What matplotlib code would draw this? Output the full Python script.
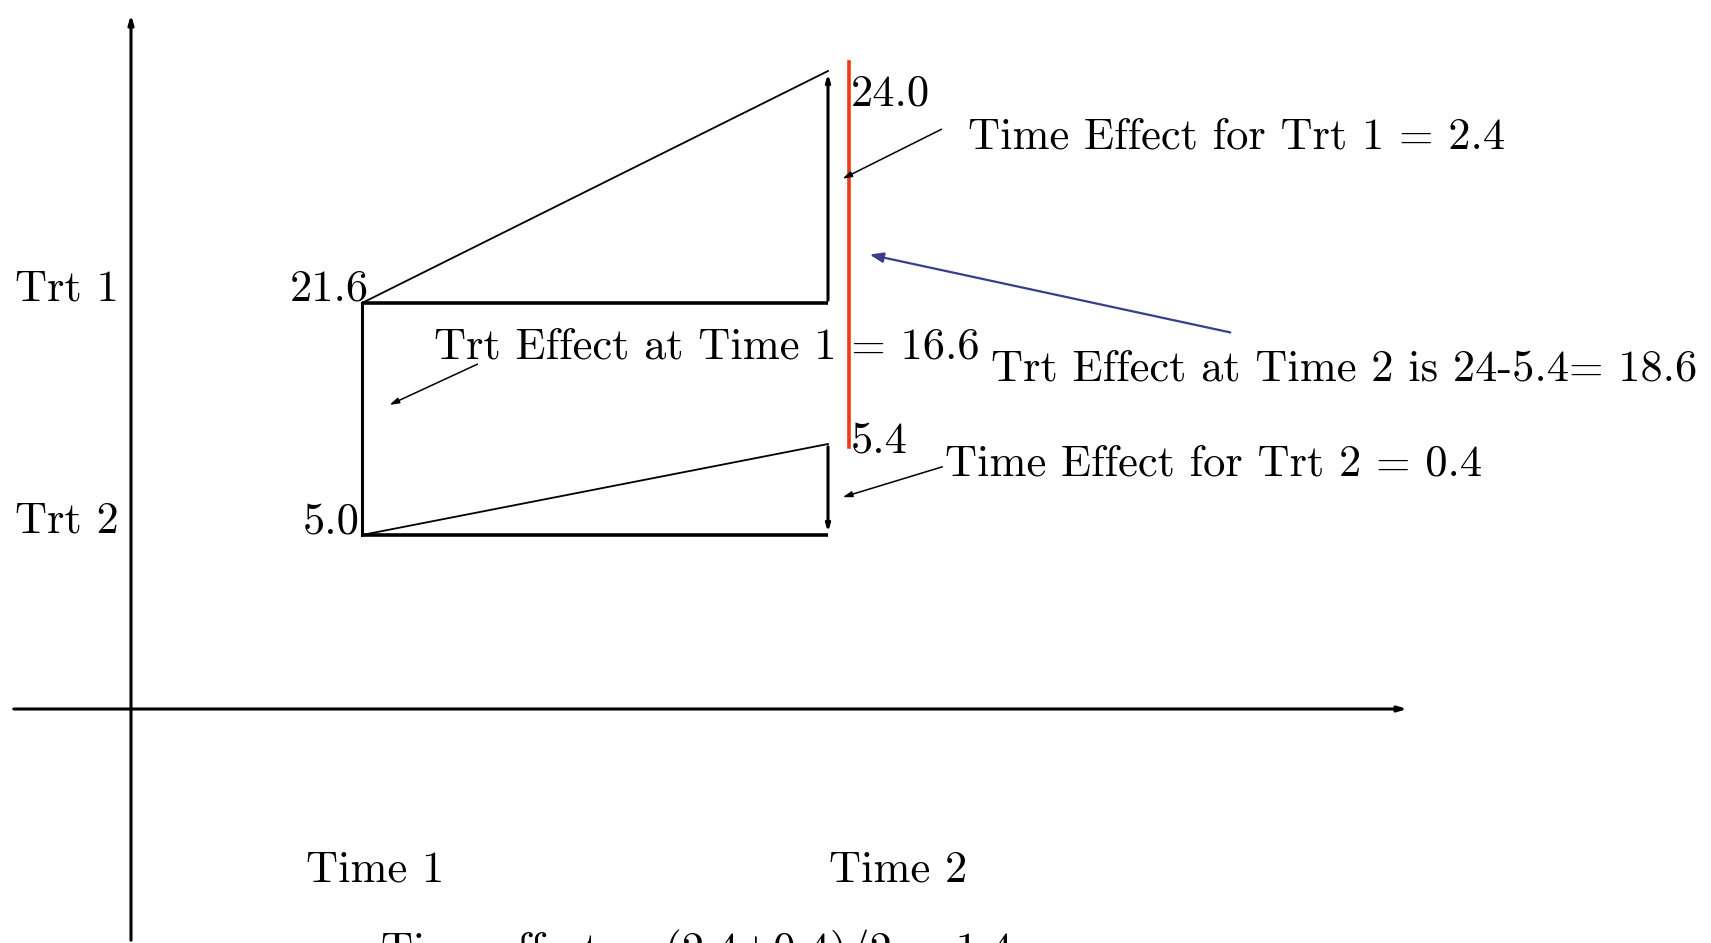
import matplotlib
matplotlib.use("Agg")
import matplotlib.pyplot as plt

# data: cell means for the 2x2 design
times = ["Time 1", "Time 2"]
groups = ["Trt 1", "Trt 2"]
trt1_means = [21.6, 24.0]
trt2_means = [5.0, 5.4]

# schematic layout (pixels of a 1711x943 canvas)
time_x = [362, 828]
trt1_y = [303, 71]
trt2_y = [535, 444]

plt.rcParams["font.family"] = ["cmr10", "DejaVu Serif"]
plt.rcParams["axes.formatter.use_mathtext"] = True
FS = 32

fig = plt.figure(figsize=(17.11, 9.43), dpi=100)
ax = fig.add_axes([0, 0, 1, 1])
ax.set_xlim(0, 1711)
ax.set_ylim(943, 0)
ax.axis("off")

# axes of the sketch
ax.annotate("", xy=(1410, 709), xytext=(11, 709),
            arrowprops=dict(arrowstyle="-|>,head_length=0.5,head_width=0.15", lw=2.2, color="black"))
ax.annotate("", xy=(131, 12), xytext=(131, 943),
            arrowprops=dict(arrowstyle="-|>,head_length=0.5,head_width=0.15", lw=2.2, color="black"))

# thick frame
ax.plot([time_x[0], time_x[1]], [trt1_y[0], trt1_y[0]], color="black", lw=2.6, solid_capstyle="butt")
ax.plot([time_x[0], time_x[1]], [trt2_y[0], trt2_y[0]], color="black", lw=2.6, solid_capstyle="butt")
ax.plot([time_x[0], time_x[0]], [trt1_y[0], trt2_y[0]], color="black", lw=2.2)

# slopes
ax.plot(time_x, trt1_y, color="black", lw=1.3)
ax.plot(time_x, trt2_y, color="black", lw=1.3)

# time effect verticals
ax.annotate("", xy=(time_x[1], trt1_y[1]), xytext=(time_x[1], trt1_y[0]),
            arrowprops=dict(arrowstyle="-|>,head_length=0.4,head_width=0.12", lw=2.2, color="black"))
ax.annotate("", xy=(time_x[1], trt2_y[0]), xytext=(time_x[1], trt2_y[1]),
            arrowprops=dict(arrowstyle="-|>,head_length=0.4,head_width=0.12", lw=2.2, color="black"))

# red bar for time 2 treatment difference
ax.plot([849, 849], [62, 447], color="#ee3a16", lw=2.6)

# value labels
ax.text(time_x[0] + 7, trt1_y[0] - 14, f"{trt1_means[0]:.1f}", fontsize=FS, ha="right", va="center")
ax.text(time_x[0] - 2, trt2_y[0] - 13, f"{trt2_means[0]:.1f}", fontsize=FS, ha="right", va="center")
ax.text(851, trt1_y[1] + 23, f"{trt1_means[1]:.1f}", fontsize=FS, ha="left", va="center")
ax.text(851, trt2_y[1] - 3, f"{trt2_means[1]:.1f}", fontsize=FS, ha="left", va="center")

for g, yy in zip(groups, [trt1_y[0], trt2_y[0]]):
    ax.text(15, yy - 14, g, fontsize=FS, ha="left", va="center")
for t, xx in zip(times, time_x):
    ax.text(xx - 56 if t == "Time 1" else xx + 1, 870, t, fontsize=FS, ha="left", va="center")

arrow_kw = dict(arrowstyle="-|>,head_length=0.55,head_width=0.17", lw=1.1, color="black")

trt_eff1 = trt1_means[0] - trt2_means[0]
ax.text(434, 347, f"Trt Effect at Time 1 = {trt_eff1:.1f}", fontsize=FS, ha="left", va="center")
ax.annotate("", xy=(387, 406), xytext=(480, 363), arrowprops=arrow_kw)

time_eff1 = trt1_means[1] - trt1_means[0]
ax.text(968, 137, f"Time Effect for Trt 1 = {time_eff1:.1f}", fontsize=FS, ha="left", va="center")
ax.annotate("", xy=(840, 180), xytext=(944, 128), arrowprops=arrow_kw)

trt_eff2 = trt1_means[1] - trt2_means[1]
ax.text(991, 369, f"Trt Effect at Time 2 is 24-5.4= {trt_eff2:.1f}", fontsize=FS, ha="left", va="center")
ax.annotate("", xy=(867, 254), xytext=(1233, 333),
            arrowprops=dict(arrowstyle="-|>,head_length=0.8,head_width=0.3", lw=1.6, color="#383e8c"))

time_eff2 = trt2_means[1] - trt2_means[0]
ax.text(945, 464, f"Time Effect for Trt 2 = {time_eff2:.1f}", fontsize=FS, ha="left", va="center")
ax.annotate("", xy=(840, 498), xytext=(945, 466), arrowprops=arrow_kw)

# overall time effect, partly below the canvas edge as in the source
time_eff = (time_eff1 + time_eff2) / 2
ax.text(381, 930, f"Time effect = ({time_eff1:.1f}+{time_eff2:.1f})/2 = {time_eff:.1f}",
        fontsize=FS, ha="left", va="top")

fig.savefig("out.png", dpi=100)
